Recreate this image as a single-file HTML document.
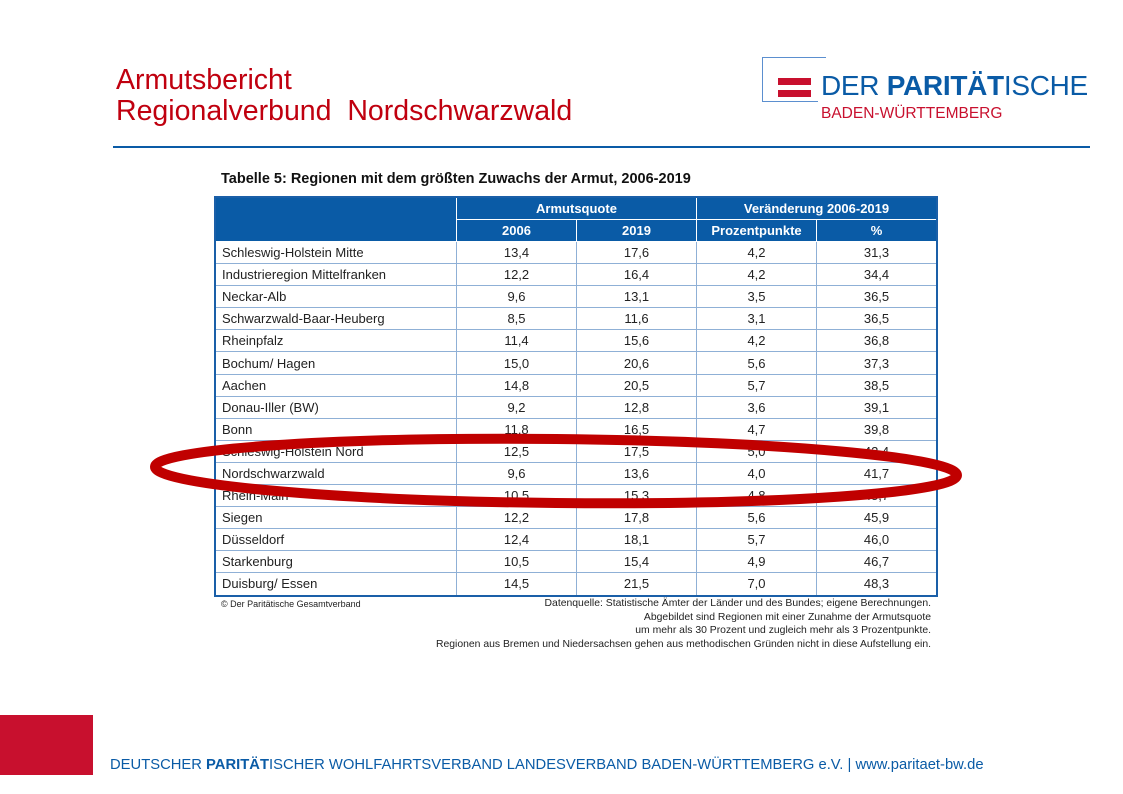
<!DOCTYPE html>
<html><head><meta charset="utf-8"><style>
body{margin:0;width:1123px;height:794px;position:relative;background:#fff;font-family:"Liberation Sans",sans-serif;overflow:hidden}
.a{position:absolute;white-space:nowrap}
table{position:absolute;left:214px;top:196px;border-collapse:collapse;font-size:13px;color:#222;border:2px solid #1a5fa8}
td,th{border:1px solid #8fb0d6;height:21.1px;padding:0;text-align:center}
td:first-child{text-align:left;padding-left:6px}
th{background:#0a5ba6;color:#fff;font-weight:bold;border-color:#fff;height:21px;font-size:13px}
</style></head><body>
<div class="a" style="left:116px;top:65px;font-size:28.5px;color:#c0000f;line-height:31px">Armutsbericht<br>Regionalverbund&nbsp; Nordschwarzwald</div>
<div class="a" style="left:113px;top:146px;width:977px;height:2px;background:#0a5ba6"></div>
<div class="a" style="left:762px;top:57px;width:63px;height:44px;border-left:1px solid #5b8fcf;border-top:1px solid #5b8fcf"></div>
<div class="a" style="left:762px;top:101px;width:56px;height:1px;background:#5b8fcf"></div>
<div class="a" style="left:778px;top:78px;width:33px;height:7px;background:#c8102e"></div>
<div class="a" style="left:778px;top:90px;width:33px;height:7px;background:#c8102e"></div>
<div class="a" style="left:821px;top:70px;font-size:28px;color:#0a5ba6;letter-spacing:-0.3px">DER <b>PARITÄT</b>ISCHE</div>
<div class="a" style="left:821px;top:105px;font-size:15.5px;color:#c8102e">BADEN-WÜRTTEMBERG</div>
<div class="a" style="left:221px;top:171px;font-size:14.5px;font-weight:bold;color:#111">Tabelle 5: Regionen mit dem größten Zuwachs der Armut, 2006-2019</div>
<table>
<tr><th rowspan="2" style="width:240px"></th><th colspan="2">Armutsquote</th><th colspan="2">Veränderung 2006-2019</th></tr>
<tr><th style="width:119px">2006</th><th style="width:119px">2019</th><th style="width:119px">Prozentpunkte</th><th style="width:119px">%</th></tr>
<tr><td>Schleswig-Holstein Mitte</td><td>13,4</td><td>17,6</td><td>4,2</td><td>31,3</td></tr>
<tr><td>Industrieregion Mittelfranken</td><td>12,2</td><td>16,4</td><td>4,2</td><td>34,4</td></tr>
<tr><td>Neckar-Alb</td><td>9,6</td><td>13,1</td><td>3,5</td><td>36,5</td></tr>
<tr><td>Schwarzwald-Baar-Heuberg</td><td>8,5</td><td>11,6</td><td>3,1</td><td>36,5</td></tr>
<tr><td>Rheinpfalz</td><td>11,4</td><td>15,6</td><td>4,2</td><td>36,8</td></tr>
<tr><td>Bochum/ Hagen</td><td>15,0</td><td>20,6</td><td>5,6</td><td>37,3</td></tr>
<tr><td>Aachen</td><td>14,8</td><td>20,5</td><td>5,7</td><td>38,5</td></tr>
<tr><td>Donau-Iller (BW)</td><td>9,2</td><td>12,8</td><td>3,6</td><td>39,1</td></tr>
<tr><td>Bonn</td><td>11,8</td><td>16,5</td><td>4,7</td><td>39,8</td></tr>
<tr><td>Schleswig-Holstein Nord</td><td>12,5</td><td>17,5</td><td>5,0</td><td>42,4</td></tr>
<tr><td>Nordschwarzwald</td><td>9,6</td><td>13,6</td><td>4,0</td><td>41,7</td></tr>
<tr><td>Rhein-Main</td><td>10,5</td><td>15,3</td><td>4,8</td><td>45,7</td></tr>
<tr><td>Siegen</td><td>12,2</td><td>17,8</td><td>5,6</td><td>45,9</td></tr>
<tr><td>Düsseldorf</td><td>12,4</td><td>18,1</td><td>5,7</td><td>46,0</td></tr>
<tr><td>Starkenburg</td><td>10,5</td><td>15,4</td><td>4,9</td><td>46,7</td></tr>
<tr><td>Duisburg/ Essen</td><td>14,5</td><td>21,5</td><td>7,0</td><td>48,3</td></tr>
</table>
<div class="a" style="left:221px;top:599px;font-size:9px;color:#222">© Der Paritätische Gesamtverband</div>
<div class="a" style="right:192px;top:597px;font-size:10.4px;color:#222;text-align:right;line-height:13.7px">Datenquelle: Statistische Ämter der Länder und des Bundes; eigene Berechnungen.<br>Abgebildet sind Regionen mit einer Zunahme der Armutsquote<br>um mehr als 30 Prozent und zugleich mehr als 3 Prozentpunkte.<br>Regionen aus Bremen und Niedersachsen gehen aus methodischen Gründen nicht in diese Aufstellung ein.</div>
<svg class="a" style="left:0;top:0" width="1123" height="794"><ellipse cx="556" cy="471" rx="401" ry="32" fill="none" stroke="#c00000" stroke-width="10" transform="rotate(0.6 556 471)"/></svg>
<div class="a" style="left:0;top:715px;width:93px;height:60px;background:#c8102e"></div>
<div class="a" style="left:110px;top:756px;font-size:15px;color:#0a5ba6;transform:scaleX(0.985);transform-origin:left">DEUTSCHER <b>PARITÄT</b>ISCHER WOHLFAHRTSVERBAND LANDESVERBAND BADEN-WÜRTTEMBERG e.V. | www.paritaet-bw.de</div>
</body></html>
